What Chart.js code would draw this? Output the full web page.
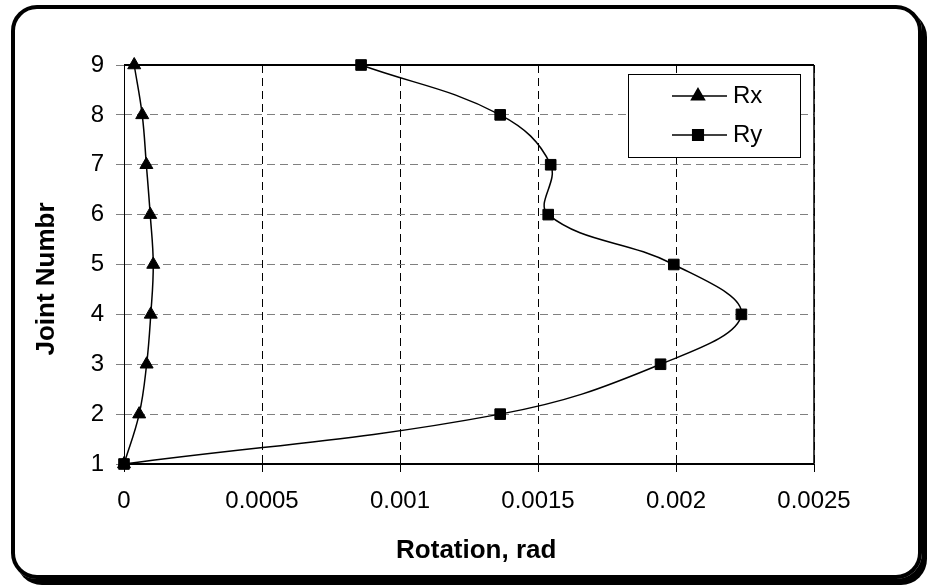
<!DOCTYPE html>
<html>
<head>
<meta charset="utf-8">
<script src="https://cdn.jsdelivr.net/npm/chart.js"></script>
<style>
  html, body { margin: 0; padding: 0; background: #fff; }
  #wrap { position: relative; width: 928px; height: 586px; overflow: hidden; background: #fff; }
  #wrap canvas { position: absolute; left: 0; top: 0; }
  #frame {
    position: absolute; left: 11px; top: 5px; width: 911px; height: 574px;
    box-sizing: border-box; border: 4px solid #000; border-radius: 26px;
    box-shadow: 5px 6px 0 #000; pointer-events: none;
  }
</style>
</head>
<body>
<div id="wrap">
  <canvas id="rotChart" width="928" height="586"></canvas>
  <div id="frame"></div>
</div>
<script>
// joint numbers (y axis) and rotations (x axis)
const joints = [1, 2, 3, 4, 5, 6, 7, 8, 9];
const rxValues = [0, 0.000055, 0.000082, 0.000097, 0.000106, 0.000095, 0.000081, 0.000066, 0.000037];
const ryValues = [0, 0.001363, 0.001944, 0.002237, 0.001992, 0.001537, 0.001546, 0.001363, 0.000859];
const xTickLabels = ['0', '0.0005', '0.001', '0.0015', '0.002', '0.0025'];
const yTickLabels = ['1', '2', '3', '4', '5', '6', '7', '8', '9'];

const FONT = "'Liberation Sans', Arial, sans-serif";

function toPoints(values) {
    return values.map((v, i) => ({ x: v, y: joints[i] }));
}

// plot frame: solid black border around the plot area
const plotFrame = {
    id: 'plotFrame',
    beforeDatasetsDraw(chart) {
        const { ctx, chartArea: a } = chart;
        ctx.save();
        ctx.strokeStyle = '#000';
        ctx.setLineDash([]);
        ctx.lineWidth = 2;
        ctx.beginPath();
        ctx.moveTo(a.left, a.top);
        ctx.lineTo(a.right, a.top);
        ctx.moveTo(a.left, a.bottom);
        ctx.lineTo(a.right, a.bottom);
        ctx.stroke();
        ctx.lineWidth = 1.5;
        ctx.beginPath();
        ctx.moveTo(a.right, a.top);
        ctx.lineTo(a.right, a.bottom);
        ctx.stroke();
        ctx.lineWidth = 1;
        ctx.beginPath();
        ctx.moveTo(a.left + 0.5, a.top);
        ctx.lineTo(a.left + 0.5, a.bottom);
        ctx.stroke();
        ctx.restore();
    }
};

// legend box inside the plot, line + marker like the original
const boxLegend = {
    id: 'boxLegend',
    afterDatasetsDraw(chart) {
        const { ctx } = chart;
        const bx = 628, by = 74, bw = 172, bh = 83;
        ctx.save();
        ctx.fillStyle = '#fff';
        ctx.fillRect(bx, by, bw, bh);
        ctx.strokeStyle = '#000';
        ctx.lineWidth = 1;
        ctx.setLineDash([]);
        ctx.strokeRect(bx + 0.5, by + 0.5, bw, bh);
        chart.data.datasets.forEach((ds, i) => {
            const y = 96 + i * 39;
            ctx.strokeStyle = '#000';
            ctx.lineWidth = 1.5;
            ctx.beginPath();
            ctx.moveTo(672, y);
            ctx.lineTo(727, y);
            ctx.stroke();
            ctx.fillStyle = '#000';
            Chart.helpers.drawPoint(ctx, {
                pointStyle: ds.pointStyle,
                radius: ds.pointRadius,
                borderWidth: 1,
                rotation: 0
            }, 698, y);
            ctx.fillStyle = '#000';
            ctx.font = '24px ' + FONT;
            ctx.textBaseline = 'middle';
            ctx.textAlign = 'left';
            ctx.fillText(ds.label, 733, y);
        });
        ctx.restore();
    }
};

new Chart(document.getElementById('rotChart'), {
    type: 'scatter',
    data: {
        datasets: [{
            label: 'Rx',
            data: toPoints(rxValues),
            showLine: true,
            clip: false,
            borderColor: '#000',
            backgroundColor: '#000',
            borderWidth: 1.5,
            tension: 0.4,
            pointStyle: 'triangle',
            pointRadius: 7.5,
            pointBorderWidth: 1
        }, {
            label: 'Ry',
            data: toPoints(ryValues),
            showLine: true,
            clip: false,
            borderColor: '#000',
            backgroundColor: '#000',
            borderWidth: 1.5,
            tension: 0.4,
            pointStyle: 'rect',
            pointRadius: 7.5,
            pointBorderWidth: 1
        }]
    },
    options: {
        responsive: false,
        animation: false,
        layout: { padding: { top: 65, right: 114, bottom: 0, left: 0 } },
        plugins: {
            legend: { display: false },
            tooltip: { enabled: false }
        },
        scales: {
            x: {
                type: 'linear',
                min: 0,
                max: 0.0025,
                afterFit: function(scale) { scale.height = 122; },
                afterBuildTicks: function(scale) {
                    scale.ticks = xTickLabels.map(t => ({ value: parseFloat(t) }));
                },
                ticks: {
                    callback: function(value, index) { return xTickLabels[index]; },
                    font: { size: 24, family: FONT },
                    color: '#000',
                    padding: 15,
                    maxRotation: 0
                },
                grid: {
                    color: '#000',
                    lineWidth: 1,
                    tickLength: 8,
                    tickBorderDash: []
                },
                border: { display: false, dash: [8, 5] },
                title: {
                    display: true,
                    text: '  Rotation, rad',
                    font: { size: 26, weight: 'bold', family: FONT },
                    color: '#000',
                    padding: { top: 0, bottom: 20 }
                }
            },
            y: {
                type: 'linear',
                min: 1,
                max: 9,
                afterFit: function(scale) { scale.width = 124; },
                afterBuildTicks: function(scale) {
                    scale.ticks = yTickLabels.map(t => ({ value: parseFloat(t) }));
                },
                ticks: {
                    callback: function(value, index) { return yTickLabels[index]; },
                    font: { size: 24, family: FONT },
                    color: '#000',
                    padding: 12
                },
                grid: {
                    color: '#808080',
                    lineWidth: 1,
                    tickLength: 8,
                    tickBorderDash: []
                },
                border: { display: false, dash: [8, 5] },
                title: {
                    display: true,
                    text: 'Joint Numbr    ',
                    font: { size: 26, weight: 'bold', family: FONT },
                    color: '#000',
                    padding: { top: 31, bottom: 0 }
                }
            }
        }
    },
    plugins: [plotFrame, boxLegend]
});
</script>
</body>
</html>
